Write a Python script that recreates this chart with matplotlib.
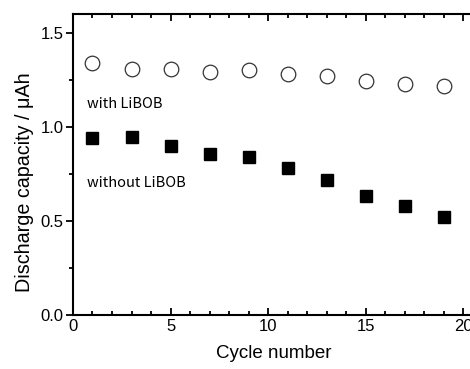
import numpy as np
import matplotlib.pyplot as plt
from matplotlib.ticker import MultipleLocator

# Data
cycles = [1, 3, 5, 7, 9, 11, 13, 15, 17, 19]
with_libob = [1.34, 1.31, 1.31, 1.29, 1.30, 1.28, 1.27, 1.245, 1.23, 1.22]
without_libob = [0.94, 0.947, 0.90, 0.856, 0.84, 0.78, 0.72, 0.63, 0.58, 0.52]

plt.rcParams['font.family'] = ['Liberation Sans', 'DejaVu Sans']

fig = plt.figure(figsize=(4.7, 3.69), dpi=100)
ax = fig.add_axes([0.1553, 0.1463, 0.855, 0.8157])

ax.plot(cycles, with_libob, 'o', ms=10.5, mfc='white', mec='#333333', mew=0.9)
ax.plot(cycles, without_libob, 's', ms=9, mfc='black', mec='black')

ax.set_xlim(0, 20.6)
ax.set_ylim(0, 1.6)
ax.xaxis.set_minor_locator(MultipleLocator(1))
ax.yaxis.set_minor_locator(MultipleLocator(0.25))
ax.set_xticks([0, 5, 10, 15, 20])
ax.set_xticklabels(['0', '5', '10', '15', '20'])
ax.set_yticks([0, 0.5, 1.0, 1.5])
ax.set_yticklabels(['0.0', '0.5', '1.0', '1.5'])

for s in ['left', 'bottom', 'top']:
    ax.spines[s].set_linewidth(1.5)
ax.spines['right'].set_visible(False)

ax.tick_params(axis='x', which='both', direction='in', top=True, width=1.3,
               labelsize=12, pad=3)
ax.tick_params(axis='x', which='major', length=5)
ax.tick_params(axis='x', which='minor', length=3)
ax.tick_params(axis='y', which='both', direction='out', width=1.3,
               labelsize=12, pad=2)
ax.tick_params(axis='y', which='major', length=5)
ax.tick_params(axis='y', which='minor', length=3)

ax.set_xlabel('Cycle number', fontsize=13.5)
ax.xaxis.set_label_coords(0.5, -0.1)
ax.set_ylabel('Discharge capacity / \u03bcAh', fontsize=14.2)
ax.yaxis.set_label_coords(-0.098, 0.44)

ax.text(0.7, 1.12, 'with LiBOB', fontsize=10.5,
        family=['Noto Sans CJK JP', 'DejaVu Sans'], va='center')
ax.text(0.7, 0.70, 'without LiBOB', fontsize=10.5,
        family=['Noto Sans CJK JP', 'DejaVu Sans'], va='center')

fig.savefig('out.png', dpi=100)
